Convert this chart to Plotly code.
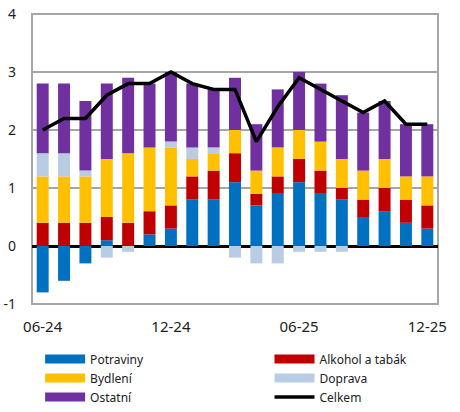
import plotly.graph_objects as go

months = ["06-24", "07-24", "08-24", "09-24", "10-24", "11-24", "12-24",
          "01-25", "02-25", "03-25", "04-25", "05-25", "06-25", "07-25",
          "08-25", "09-25", "10-25", "11-25", "12-25"]

potraviny = [-0.8, -0.6, -0.3, 0.1, 0.0, 0.2, 0.3, 0.8, 0.8, 1.1,
             0.7, 0.9, 1.1, 0.9, 0.8, 0.5, 0.6, 0.4, 0.3]
alkohol = [0.4, 0.4, 0.4, 0.4, 0.4, 0.4, 0.4, 0.4, 0.5, 0.5,
           0.2, 0.3, 0.4, 0.4, 0.2, 0.3, 0.4, 0.4, 0.4]
bydleni = [0.8, 0.8, 0.8, 1.0, 1.2, 1.1, 1.0, 0.3, 0.3, 0.4,
           0.4, 0.5, 0.5, 0.5, 0.5, 0.5, 0.5, 0.4, 0.5]
doprava = [0.4, 0.4, 0.1, -0.2, -0.1, 0.0, 0.1, 0.2, 0.1, -0.2,
           -0.3, -0.3, -0.1, -0.1, -0.1, 0.0, 0.0, 0.0, 0.0]
ostatni = [1.2, 1.2, 1.2, 1.3, 1.3, 1.1, 1.2, 1.1, 1.0, 0.9,
           0.8, 1.0, 1.0, 1.0, 1.1, 1.0, 1.0, 0.9, 0.9]
celkem = [2.0, 2.2, 2.2, 2.6, 2.8, 2.8, 3.0, 2.8, 2.7, 2.7,
          1.8, 2.4, 2.9, 2.7, 2.5, 2.3, 2.5, 2.1, 2.1]

x_ticks = ["06-24", "12-24", "06-25", "12-25"]
y_ticks = [-1, 0, 1, 2, 3, 4]
y_labels = ["-1", "0", "1", "2", "3", "4"]

series = [
    ("Potraviny", potraviny, "#0070C0", "legend"),
    ("Alkohol a tabák", alkohol, "#C00000", "legend2"),
    ("Bydlení", bydleni, "#FFC000", "legend"),
    ("Doprava", doprava, "#B8CCE4", "legend2"),
    ("Ostatní", ostatni, "#7030A0", "legend"),
]

fig = go.Figure()

# stacked bars (legend drawn with wide swatches below)
for name, vals, color, lg in series:
    fig.add_trace(go.Bar(x=months, y=vals, name=name, marker_color=color,
                         marker_line_width=0, showlegend=False))

fig.add_trace(go.Scatter(x=months, y=celkem, mode="lines", name="Celkem",
                         line=dict(color="black", width=3.5), showlegend=False))

# legend entries as wide swatches
order = [series[0], series[2], series[4], series[1], series[3]]
for name, vals, color, lg in order:
    fig.add_trace(go.Scatter(x=[None], y=[None], mode="lines", name=name,
                             line=dict(color=color, width=9), legend=lg))
fig.add_trace(go.Scatter(x=[None], y=[None], mode="lines", name="Celkem",
                         line=dict(color="black", width=3.5), legend="legend2"))

fig.update_layout(
    width=460, height=412,
    margin=dict(l=32, r=22, t=14, b=108, autoexpand=False),
    plot_bgcolor="white", paper_bgcolor="white",
    barmode="relative", bargap=0.44,
    font=dict(family="Noto Sans", size=14, color="#222222"),
    legend=dict(x=0.02, y=-0.14, xanchor="left", yanchor="top",
                font=dict(size=12), tracegroupgap=0, itemwidth=40),
    legend2=dict(x=0.585, y=-0.14, xanchor="left", yanchor="top",
                 font=dict(size=12), tracegroupgap=0, itemwidth=40),
)

# grey frame around the plot area
fig.add_shape(type="rect", xref="paper", yref="paper", x0=0, x1=1, y0=0, y1=1,
              line=dict(color="#a6a6a6", width=2), layer="below")

fig.update_xaxes(type="category", tickvals=x_ticks, ticktext=x_ticks,
                 range=[-0.5, 18.5], automargin=False, showgrid=False,
                 ticklabelstandoff=12, tickfont=dict(size=15))
fig.update_yaxes(range=[-1, 4], tickvals=y_ticks, ticktext=y_labels,
                 automargin=False, showgrid=True, gridcolor="#a6a6a6",
                 gridwidth=1.5, zeroline=True, zerolinecolor="black",
                 zerolinewidth=2.5,
                 ticklabelstandoff=15, tickfont=dict(size=14))

fig.write_html("out.html", config={"displayModeBar": False},
               post_script="document.body.style.margin = '0';")
